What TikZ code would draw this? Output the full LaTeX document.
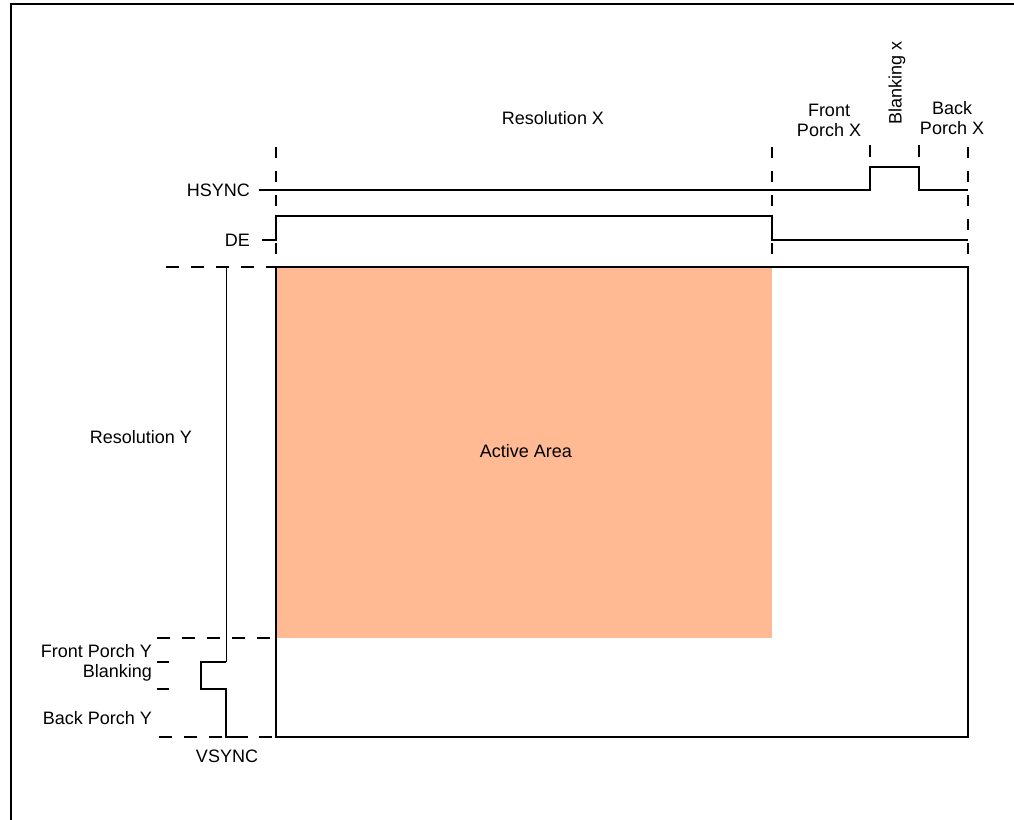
\documentclass[tikz,border=0pt]{standalone}
\usepackage{fontspec}
\setmainfont{Liberation Sans}
\usetikzlibrary{positioning}
\definecolor{activefill}{RGB}{255,186,148}
\tikzset{
  lbl/.style    = {font=\fontsize{18}{20}\selectfont, inner sep=0pt, align=center},
  signal/.style = {line width=2pt},
  thinsig/.style = {line width=1pt},
  guide/.style  = {line width=2pt, dash pattern=on 11pt off 13pt},
  hguide/.style = {line width=2pt, dash pattern=on 13pt off 12pt},
  frame/.style  = {line width=2pt},
}

\begin{document}
\begin{tikzpicture}[x=1pt, y=-1pt]
  \useasboundingbox (0,0) rectangle (1014,819);

  % outer figure frame
  \draw[frame] (11,830) -- (11,4) -- (1030,4);

  % grid of timing points
  \coordinate (xa) at (276,0);
  \coordinate (xb) at (772,0);
  \coordinate (xc) at (870,0);
  \coordinate (xd) at (919,0);
  \coordinate (xe) at (968,0);

  % labels
  \node[lbl] (resx)   at (553,118) {Resolution X};
  \node[lbl] (fpx)    at (829,120) {Front\\Porch X};
  \node[lbl, rotate=90] (blkx) at (897,83) {Blanking x};
  \node[lbl] (bpx)    at (952,118) {Back\\Porch X};
  \node[lbl, anchor=east] (hsync) at (250,190) {HSYNC};
  \node[lbl, anchor=east] (de)    at (250,240) {DE};
  \node[lbl] (resy)   at (141,437) {Resolution Y};
  \node[lbl, anchor=east] (fpy)  at (152,651) {Front Porch Y};
  \node[lbl, anchor=east] (blky) at (152,673) {Blanking};
  \node[lbl, anchor=east] (bpy)  at (152,718) {Back Porch Y};
  \node[lbl] (vsync)  at (227,756) {VSYNC};

  % active area and frame
  \fill[activefill] (276,267) rectangle (772,638);
  \node[lbl] (active) at (526,451) {Active Area};
  \draw[frame] (276,267) rectangle (968,737);

  % vertical guides
  \draw[guide] (xa |- 0,147) -- (276,267);
  \draw[guide] (xb |- 0,147) -- (772,267);
  \draw[guide] (xe |- 0,147) -- (968,267);
  \draw[signal] (xc |- 0,145) -- (870,157);
  \draw[signal] (xd |- 0,145) -- (919,157);

  % horizontal signals
  \draw[signal] ([xshift=9pt]hsync.east) -- (870,190) -- (870,167)
                -- (919,167) -- (919,190) -- (968,190);
  \draw[signal] ([xshift=12pt]de.east) -- (276,240) -- (276,216)
                -- (772,216) -- (772,240) -- (968,240);

  % horizontal guides
  \draw[hguide] (166,267) -- (276,267);
  \draw[hguide] (157,638) -- (276,638);
  \draw[hguide] (159,737) -- (276,737);
  \draw[signal] (157,662) -- (169,662);
  \draw[signal] (157,689) -- (169,689);

  % vsync
  \draw[thinsig] (226,267) -- (226,662);
  \draw[signal] (226,662) -- (201,662) -- (201,689) -- (226,689) -- (226,737) -- (248,737);
\end{tikzpicture}
\end{document}
